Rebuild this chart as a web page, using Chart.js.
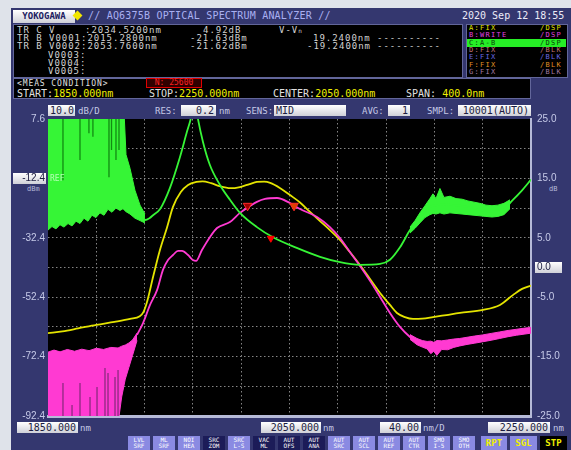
<!DOCTYPE html>
<html>
<head>
<meta charset="utf-8">
<script src="https://cdn.jsdelivr.net/npm/chart.js@4.4.1/dist/chart.umd.min.js"></script>
<style>
body{margin:0;width:571px;height:450px;overflow:hidden;background:#dfe3ea;font-family:"DejaVu Sans Mono",monospace;}
.a{position:absolute;white-space:pre;line-height:1;}
#frame{position:absolute;left:11px;top:8px;width:560px;height:442px;background:#34376f;}
.panel{position:absolute;background:#000;border:1px solid #62669a;box-sizing:border-box;}
.info{font-size:9px;letter-spacing:0.98px;color:#d2d2d2;}
.tr{font-size:7px;letter-spacing:1.3px;}
.lab{font-size:9px;color:#c4c8e6;}
.box{position:absolute;background:linear-gradient(#ffffff,#cfd0d8);color:#1c1c40;font-size:10px;line-height:11px;height:11px;text-align:right;padding:0 2px;box-sizing:border-box;white-space:pre;}
.btn{position:absolute;top:436px;width:22px;height:14px;background:#8a8ae2;color:#fff;font-size:6px;line-height:6px;text-align:center;padding-top:1px;box-sizing:border-box;white-space:pre;}
.btn.d{background:#1c1c58;}
.big{position:absolute;top:436px;height:14px;font-size:9px;font-weight:bold;line-height:14px;text-align:center;color:#f0f000;background:#8a8ae2;}
#wrap{position:absolute;left:0;top:0;width:571px;height:450px;z-index:1;}
.up{z-index:2;}
</style>
</head>
<body>
<div id="frame"></div>

<!-- title bar -->
<div class="box" style="left:13px;top:10px;width:62px;height:13px;line-height:13px;text-align:center;font-size:9px;font-weight:bold;color:#202060;">YOKOGAWA</div>
<div style="position:absolute;left:74px;top:12px;width:7px;height:7px;background:#f2e600;transform:rotate(45deg);"></div>
<div class="a" style="left:88px;top:11px;font-size:10px;letter-spacing:0.2px;color:#a9b0f2;">// AQ6375B OPTICAL SPECTRUM ANALYZER //</div>
<div class="a" style="left:462px;top:11px;font-size:10px;color:#ecebf8;">2020 Sep 12 18:55</div>

<!-- marker panel -->
<div class="panel" style="left:13px;top:24px;width:450px;height:54px;"></div>
<div class="a info" style="left:17px;top:26px;">TR C V</div>
<div class="a info" style="left:85px;top:26px;">:2034.5200nm</div>
<div class="a info" style="left:203px;top:26px;">4.92dB</div>
<div class="a info" style="left:279px;top:26px;">V-V<span style="font-size:6px;">n</span></div>
<div class="a info" style="left:17px;top:34px;">TR B V0001:2015.2800nm</div>
<div class="a info" style="left:190px;top:34px;">-21.63dBm</div>
<div class="a info" style="left:313px;top:34px;">19.2400nm</div>
<div class="a info" style="left:377px;top:34px;">----------</div>
<div class="a info" style="left:17px;top:42px;">TR B V0002:2053.7600nm</div>
<div class="a info" style="left:190px;top:42px;">-21.62dBm</div>
<div class="a info" style="left:307px;top:42px;">-19.2400nm</div>
<div class="a info" style="left:377px;top:42px;">----------</div>
<div class="a info" style="left:48px;top:51px;">V0003:</div>
<div class="a info" style="left:48px;top:59px;">V0004:</div>
<div class="a info" style="left:48px;top:67px;">V0005:</div>

<!-- trace panel -->
<div class="panel" style="left:466px;top:24px;width:102px;height:54px;"></div>
<div style="position:absolute;left:467px;top:39px;width:99px;height:8px;background:#26ee26;"></div>
<div class="a tr" style="left:469px;top:25px;color:#e2e200;">A:FIX</div><div class="a tr" style="left:540px;top:25px;color:#e2e200;">/DSP</div>
<div class="a tr" style="left:469px;top:32px;color:#e040e0;">B:WRITE</div><div class="a tr" style="left:540px;top:32px;color:#e040e0;">/DSP</div>
<div class="a tr" style="left:469px;top:40px;color:#0a3a0a;">C:A-B</div><div class="a tr" style="left:540px;top:40px;color:#0a3a0a;">/DSP</div>
<div class="a tr" style="left:469px;top:47px;color:#c07474;">D:FIX</div><div class="a tr" style="left:540px;top:47px;color:#c07474;">/BLK</div>
<div class="a tr" style="left:469px;top:54px;color:#6a6ae6;">E:FIX</div><div class="a tr" style="left:540px;top:54px;color:#6a6ae6;">/BLK</div>
<div class="a tr" style="left:469px;top:62px;color:#e09024;">F:FIX</div><div class="a tr" style="left:540px;top:62px;color:#e09024;">/BLK</div>
<div class="a tr" style="left:469px;top:69px;color:#a47aa4;">G:FIX</div><div class="a tr" style="left:540px;top:69px;color:#a47aa4;">/BLK</div>

<!-- measurement condition -->
<div class="panel" style="left:13px;top:78px;width:518px;height:21px;"></div>
<div class="a" style="left:17px;top:80px;font-size:8px;letter-spacing:0.9px;color:#e0e0e0;">&lt;MEAS CONDITION&gt;</div>
<div class="a" style="left:146px;top:78px;width:56px;height:10px;border:1px solid #e00000;box-sizing:border-box;background:#300000;font-size:8px;line-height:8px;color:#ff2020;text-align:center;">N: 25600</div>
<div class="a" style="left:17px;top:89px;font-size:10px;color:#e0e0e0;">START:<span style="color:#f0f000;">1850.000nm</span></div>
<div class="a" style="left:149px;top:89px;font-size:10px;color:#e0e0e0;">STOP:<span style="color:#f0f000;">2250.000nm</span></div>
<div class="a" style="left:273px;top:89px;font-size:10px;color:#e0e0e0;">CENTER:<span style="color:#f0f000;">2050.000nm</span></div>
<div class="a" style="left:406px;top:89px;font-size:10px;color:#e0e0e0;">SPAN: <span style="color:#f0f000;">400.0nm</span></div>

<!-- setting row -->
<div class="box" style="left:48px;top:105px;width:27px;">10.0</div>
<div class="a lab" style="left:78px;top:107px;">dB/D</div>
<div class="a lab" style="left:155px;top:107px;">RES:</div>
<div class="box" style="left:181px;top:105px;width:35px;">0.2</div>
<div class="a lab" style="left:219px;top:107px;">nm</div>
<div class="a lab" style="left:246px;top:107px;">SENS:</div>
<div class="box" style="left:274px;top:105px;width:72px;text-align:left;">MID</div>
<div class="a lab" style="left:362px;top:107px;">AVG:</div>
<div class="box" style="left:388px;top:105px;width:22px;">1</div>
<div class="a lab" style="left:427px;top:107px;">SMPL:</div>
<div class="box" style="left:458px;top:105px;width:73px;">10001(AUTO)</div>

<!-- reference level boxes (tick labels themselves come from the chart axes) -->
<div class="box" style="left:13px;top:173px;width:33px;"></div>
<div class="a" style="left:27px;top:186px;font-size:7px;color:#b4b8d8;">dBm</div>
<div class="a up" style="left:50px;top:175px;font-size:8px;color:#b4ffb4;">REF</div>
<div class="box" style="left:535px;top:262px;width:27px;"></div>
<div class="a" style="left:549px;top:186px;font-size:7px;color:#b4b8d8;">dB</div>

<!-- bottom row -->
<div class="box" style="left:17px;top:422px;width:61px;">1850.000</div>
<div class="a lab" style="left:80px;top:424px;">nm</div>
<div class="box" style="left:261px;top:422px;width:60px;">2050.000</div>
<div class="a lab" style="left:323px;top:424px;">nm</div>
<div class="box" style="left:380px;top:422px;width:41px;">40.00</div>
<div class="a lab" style="left:423px;top:424px;">nm/D</div>
<div class="box" style="left:488px;top:422px;width:62px;">2250.000</div>
<div class="a lab" style="left:553px;top:424px;">nm</div>

<div class="btn" style="left:128px;">LVL
SRF</div>
<div class="btn" style="left:153px;">ML
SRF</div>
<div class="btn" style="left:178px;">NOI
HEA</div>
<div class="btn d" style="left:203px;">SRC
ZOM</div>
<div class="btn" style="left:228px;">SRC
L-S</div>
<div class="btn d" style="left:253px;">VAC
ML</div>
<div class="btn d" style="left:278px;">AUT
OFS</div>
<div class="btn d" style="left:303px;">AUT
ANA</div>
<div class="btn" style="left:328px;">AUT
SRC</div>
<div class="btn" style="left:353px;">AUT
SCL</div>
<div class="btn" style="left:378px;">AUT
REF</div>
<div class="btn" style="left:403px;">AUT
CTR</div>
<div class="btn" style="left:428px;">SMO
I-5</div>
<div class="btn" style="left:453px;">SMO
OTH</div>
<div class="big" style="left:481px;width:26px;">RPT</div>
<div class="big" style="left:510px;width:27px;">SGL</div>
<div class="big" style="left:540px;width:27px;background:#000;">STP</div>

<div id="wrap"><canvas id="osa"></canvas></div>

<script>
// trace A (yellow, dBm)
const waveA = [1850, 1862, 1875, 1890, 1905, 1918, 1926, 1929, 1932, 1937, 1942.7, 1948.5, 1953.5, 1960, 1966, 1973, 1978, 1985, 1992, 2001, 2009, 2017, 2023, 2029, 2034, 2042, 2050.4, 2058.7, 2067, 2075.3, 2083.5, 2091.8, 2100, 2108.4, 2116.7, 2125, 2133.2, 2139, 2145.6, 2152.3, 2160, 2168.8, 2180, 2191.2, 2210.3, 2224.3, 2235, 2242.6, 2250];
const levelA = [-64.5, -63.9, -62.9, -61.7, -60.7, -59.7, -58.8, -57.4, -54.0, -45.6, -36.5, -29.0, -22.0, -17.0, -14.6, -13.6, -13.4, -14.0, -15.0, -15.7, -15.3, -14.3, -13.6, -13.5, -13.9, -15.6, -18.0, -20.5, -23.7, -26.8, -29.8, -33.1, -37.2, -41.6, -46.3, -51.0, -55.0, -57.7, -59.1, -59.7, -59.6, -59.1, -58.4, -57.7, -56.7, -55.0, -51.7, -49.6, -48.5];

// trace B (magenta, dBm)
const waveB = [1923.7, 1928.7, 1934.5, 1940.3, 1945.2, 1949.4, 1953.5, 1957.7, 1961, 1966, 1970, 1972.6, 1977.5, 1984.2, 1990, 2000.7, 2009, 2017.3, 2023, 2029.7, 2039.7, 2050.4, 2058.7, 2072.8, 2083.5, 2091.8, 2100, 2108.4, 2116.7, 2125, 2133.2, 2141.5, 2149.8, 2155.6, 2168.8, 2180.4, 2191.2, 2210.3, 2230.1, 2250];
const levelB = [-65.1, -61.1, -55.0, -50.0, -43.2, -39.9, -38.2, -36.8, -36.8, -38.2, -39.9, -40.2, -36.5, -32.1, -29.1, -27.1, -24.0, -21.7, -20.3, -19.3, -19.0, -20.7, -22.7, -25.4, -28.8, -32.5, -37.2, -41.9, -46.9, -52.3, -57.7, -62.4, -65.8, -67.5, -69.0, -68.6, -67.6, -66.1, -64.3, -63.2];
// noise envelope of B below 1924 nm and above 2150 nm
const waveBNoiseL = [1850, 1855, 1860, 1866, 1872, 1878, 1884, 1890, 1896, 1902, 1908, 1911, 1914, 1917, 1920, 1923.7];
const levelBNoiseLHi = [-70.9, -70.2, -70.8, -70.0, -70.6, -69.9, -70.4, -69.6, -70.0, -69.3, -69.5, -68.9, -68.5, -67.8, -66.8, -64.5];
const levelBNoiseLLo = [-95, -95, -95, -95, -95, -95, -95, -95, -95, -95, -95, -86, -80, -76, -72, -67];
const waveBNoiseR = [2149.8, 2155.6, 2160, 2164, 2167, 2169.5, 2172, 2176, 2181, 2186, 2191, 2197, 2203, 2210, 2217, 2224, 2231, 2238, 2245, 2250];
const levelBNoiseRHi = [-65.0, -66.3, -67.0, -67.3, -67.2, -67.6, -67.0, -67.1, -66.8, -66.5, -66.3, -65.9, -65.5, -65.1, -64.6, -64.1, -63.6, -63.2, -62.8, -62.6];
const levelBNoiseRLo = [-66.6, -68.4, -69.2, -69.8, -71.4, -70.6, -72.0, -70.0, -70.1, -69.3, -68.8, -68.3, -67.9, -67.4, -66.9, -66.3, -65.7, -65.2, -64.8, -64.5];
const waveBStripe = [1862.4, 1869.9, 1876.5, 1884.8, 1890.6, 1897.2, 1899.7, 1905.5, 1908];
const levelBStripeTop = [-81.3, -88.7, -81.3, -86.0, -82.6, -76.2, -77.9, -79.3, -76.9];
const levelBFloor = -95;

// trace C = A-B (green, dB)
const waveC = [1926.2, 1930.3, 1934, 1937, 1943, 1951, 1959, 1965, 1968.4, 1971.3, 1974, 1978.4, 1984, 1992.4, 2000.7, 2009, 2023, 2036.3, 2056, 2075.3, 2091.8, 2108.4, 2125, 2133.2, 2141.5, 2149.8, 2158, 2168.8, 2180.4, 2197, 2213.6, 2224.3, 2235, 2242.6, 2250];
const ratioC = [8.6, 8.0, 8.3, 8.8, 9.9, 13.4, 18.4, 22.8, 25.2, 28.5, 25.2, 21.1, 17.3, 13.9, 11.4, 9.2, 6.8, 5.1, 3.3, 1.8, 0.9, 0.45, 0.6, 1.3, 3.4, 6.3, 8.5, 10.4, 10.6, 10.2, 9.5, 9.4, 11.4, 13.0, 14.8];
const waveCNoiseL = [1850, 1853.3, 1856.6, 1859.9, 1863.2, 1866.6, 1869.9, 1873.2, 1876.5, 1879.8, 1883.1, 1886.4, 1889.7, 1893.0, 1896.4, 1899.7, 1903.0, 1906.3, 1909.6, 1912.1, 1914.6, 1917.9, 1922.0, 1926.2, 1930.3];
const ratioCNoiseLHi = [30, 30, 30, 30, 30, 30, 30, 30, 30, 30, 30, 30, 30, 30, 30, 30, 30, 30, 30, 30, 19.0, 16.7, 13.0, 10.5, 9.0];
const ratioCNoiseLLo = [6.3, 6.9, 6.5, 7.2, 6.8, 7.4, 7.0, 7.8, 7.4, 8.3, 7.8, 8.8, 8.4, 9.2, 8.8, 9.8, 9.3, 10.0, 9.6, 9.9, 9.4, 9.0, 8.3, 7.9, 7.5];
const waveCNoiseR = [2149.8, 2154, 2158, 2162.2, 2166.3, 2168.8, 2171.3, 2174.6, 2177.9, 2182.9, 2187.9, 2192.9, 2197.8, 2202.8, 2207.7, 2212.7, 2217.7, 2222.6, 2227.6, 2232.6];
const ratioCNoiseRHi = [6.8, 7.9, 9.2, 10.4, 11.6, 12.4, 11.6, 13.3, 11.8, 12.0, 11.6, 11.5, 11.2, 11.0, 10.8, 10.5, 10.4, 10.5, 10.8, 11.4];
const ratioCNoiseRLo = [5.8, 6.6, 7.5, 8.4, 8.9, 9.1, 9.0, 9.2, 9.0, 9.2, 9.1, 9.0, 8.9, 8.8, 8.7, 8.6, 8.5, 8.6, 8.9, 9.9];
const waveCStripe = [1862.4, 1876.5, 1883.9, 1887.2, 1900.5, 1902.6, 1906.3, 1908.8];
const ratioCStripeLow = [14.7, 18.1, 22.6, 22.0, 15.2, 19.8, 18.1, 19.8];
const ratioCCeiling = 30;

// markers
const markerBNm = [2015.28, 2053.76];
const markerBDbm = [-21.63, -21.62];
const markerCNm = [2034.52];
const markerCdB = [4.92];

// axes
const gridNm = [1850, 1890, 1930, 1970, 2010, 2050, 2090, 2130, 2170, 2210, 2250];
const levelTicks = [-92.4, -82.4, -72.4, -62.4, -52.4, -42.4, -32.4, -22.4, -12.4, -2.4, 7.6];
const levelLabels = [7.6, -12.4, -32.4, -52.4, -72.4, -92.4];
const ratioTicks = [-25, -20, -15, -10, -5, 0, 5, 10, 15, 20, 25];
const ratioLabels = [25, 15, 5, 0, -5, -15, -25];

const xy = (xs, ys) => xs.map((x, i) => ({x: x, y: ys[i]}));
const stripes = (xs, from, to) => xs.flatMap((x, i) => [{x: x, y: from}, {x: x, y: to[i]}, {x: x, y: null}]);

const YEL = '#e4e400', MAG = '#ff3ad2', GRN = '#36f536';
const gridCol = c => (c.index === 0 || c.index === 10) ? 'rgba(0,0,0,0)' : '#858585';

const plotBg = {
  id: 'plotBg',
  beforeDraw(chart) {
    const {ctx, chartArea: a} = chart;
    ctx.save();
    ctx.fillStyle = '#000';
    ctx.fillRect(a.left, a.top, a.right - a.left, a.bottom - a.top);
    ctx.restore();
  }
};

new Chart(document.getElementById('osa'), {
  type: 'line',
  data: {
    datasets: [
      { data: xy(markerBNm, markerBDbm), yAxisID: 'y', showLine: false, pointStyle: 'triangle', rotation: 180,
        pointRadius: 5, pointBackgroundColor: ['#a00000', '#e04000'], pointBorderColor: '#ff2a2a', order: 0 },
      { data: xy(markerCNm, markerCdB), yAxisID: 'y2', showLine: false, pointStyle: 'triangle', rotation: 180,
        pointRadius: 4, pointBackgroundColor: '#ff0000', pointBorderColor: '#ff0000', order: 0 },
      { data: xy(waveC, ratioC), yAxisID: 'y2', borderColor: GRN, borderWidth: 1.8, cubicInterpolationMode: 'monotone', order: 1 },
      { data: xy(waveCNoiseL, ratioCNoiseLHi), yAxisID: 'y2', borderColor: GRN, borderWidth: 1, order: 2 },
      { data: xy(waveCNoiseL, ratioCNoiseLLo), yAxisID: 'y2', borderColor: GRN, borderWidth: 1, fill: '-1', backgroundColor: GRN, order: 2 },
      { data: xy(waveCNoiseR, ratioCNoiseRHi), yAxisID: 'y2', borderColor: GRN, borderWidth: 1, order: 2 },
      { data: xy(waveCNoiseR, ratioCNoiseRLo), yAxisID: 'y2', borderColor: GRN, borderWidth: 1, fill: '-1', backgroundColor: GRN, order: 2 },
      { data: stripes(waveCStripe, ratioCCeiling, ratioCStripeLow), yAxisID: 'y2', borderColor: '#138a13', borderWidth: 1.3, spanGaps: false, order: 1 },
      { data: xy(waveB, levelB), yAxisID: 'y', borderColor: MAG, borderWidth: 1.8, cubicInterpolationMode: 'monotone', order: 3 },
      { data: xy(waveBNoiseL, levelBNoiseLHi), yAxisID: 'y', borderColor: MAG, borderWidth: 1, order: 4 },
      { data: xy(waveBNoiseL, levelBNoiseLLo), yAxisID: 'y', borderColor: MAG, borderWidth: 1, fill: '-1', backgroundColor: MAG, order: 4 },
      { data: xy(waveBNoiseR, levelBNoiseRHi), yAxisID: 'y', borderColor: MAG, borderWidth: 1, order: 4 },
      { data: xy(waveBNoiseR, levelBNoiseRLo), yAxisID: 'y', borderColor: MAG, borderWidth: 1, fill: '-1', backgroundColor: MAG, order: 4 },
      { data: stripes(waveBStripe, levelBFloor, levelBStripeTop), yAxisID: 'y', borderColor: '#8e2a80', borderWidth: 1.3, spanGaps: false, order: 3 },
      { data: xy(waveA, levelA), yAxisID: 'y', borderColor: YEL, borderWidth: 1.8, cubicInterpolationMode: 'monotone', order: 5 }
    ]
  },
  options: {
    responsive: true,
    maintainAspectRatio: false,
    animation: false,
    events: [],
    layout: { padding: { left: 11, right: 0, top: 119, bottom: 34 } },
    elements: { point: { radius: 0 }, line: { tension: 0 } },
    plugins: { legend: { display: false }, tooltip: { enabled: false } },
    scales: {
      x: {
        type: 'linear', min: 1850, max: 2250,
        afterBuildTicks: s => { s.ticks = gridNm.map(v => ({ value: v })); },
        afterFit: s => { s.height = 0; },
        ticks: { display: false },
        grid: { color: gridCol, lineWidth: 1, drawTicks: false },
        border: { display: true, color: '#b6bad8', width: 3, dash: [1.5, 2.5] }
      },
      y: {
        position: 'left', min: -92.4, max: 7.6,
        afterBuildTicks: s => { s.ticks = levelTicks.map(v => ({ value: v })); },
        afterFit: s => { s.width = 37; },
        ticks: {
          autoSkip: false, padding: 3, font: { size: 10 },
          color: c => (c.tick && c.tick.value === -12.4) ? '#1c1c40' : '#c6cae8',
          callback: v => levelLabels.includes(v) ? v.toFixed(1) : ''
        },
        grid: { color: gridCol, lineWidth: 1, drawTicks: false },
        border: { display: false, dash: [1.5, 2.5] }
      },
      y2: {
        position: 'right', min: -25, max: 25,
        afterBuildTicks: s => { s.ticks = ratioTicks.map(v => ({ value: v })); },
        afterFit: s => { s.width = 40; },
        ticks: {
          autoSkip: false, padding: 6, font: { size: 10 },
          color: c => (c.tick && c.tick.value === 0) ? '#1c1c40' : '#c6cae8',
          callback: v => ratioLabels.includes(v) ? v.toFixed(1) : ''
        },
        grid: { display: false, drawTicks: false },
        border: { display: true, color: '#b6bad8', width: 2 }
      }
    }
  },
  plugins: [plotBg]
});
</script>
</body>
</html>
